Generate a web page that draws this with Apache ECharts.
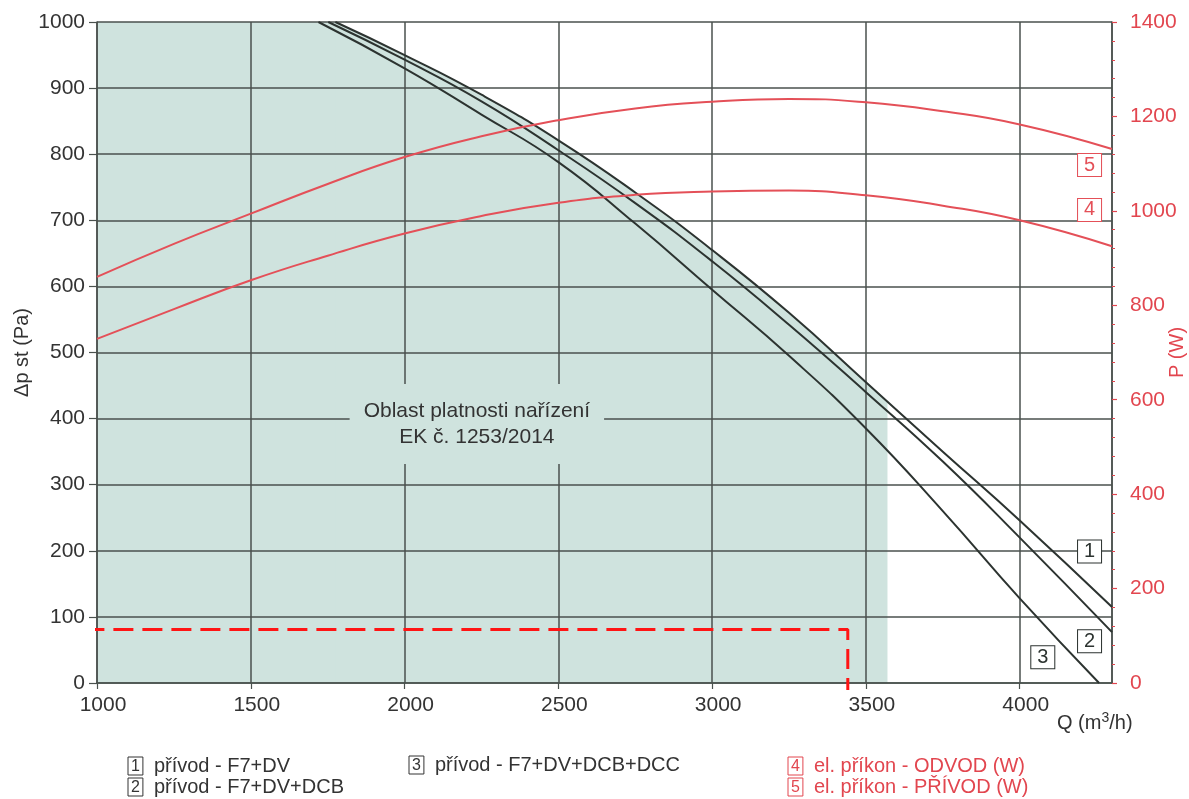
<!DOCTYPE html>
<html>
<head>
<meta charset="utf-8">
<script src="https://cdn.jsdelivr.net/npm/echarts@6/dist/echarts.min.js"></script>
<style>
  html, body { margin: 0; padding: 0; background: #ffffff; }
  #chart { width: 1189px; height: 799px; }
</style>
</head>
<body>
<div id="chart"></div>
<script>
// Fan curves: [Q (m3/h), Δp st (Pa)]
const curvePrivodF7DV = [[1775, 1000], [2000, 950], [2250, 890], [2500, 821], [2750, 742], [3000, 655], [3250, 560], [3500, 455], [3750, 350], [4000, 246], [4300, 115]];
const curvePrivodF7DVDCB = [[1752, 1000], [2000, 943], [2250, 880], [2500, 806], [2750, 726], [3000, 638], [3250, 542], [3500, 440], [3750, 335], [4000, 220], [4300, 77]];
const curvePrivodF7DVDCBDCC = [[1720, 1000], [2000, 930], [2250, 860], [2500, 788], [2750, 695], [3000, 595], [3250, 495], [3500, 385], [3750, 260], [4000, 128], [4258, 0]];

// Electrical input: [Q (m3/h), P (W)]
const powerOdvod = [[1000, 729], [1250, 792], [1500, 853], [1750, 905], [2000, 952], [2250, 989], [2500, 1017], [2750, 1034], [3000, 1041], [3250, 1043], [3500, 1033], [3750, 1011], [4000, 980], [4300, 925]];
const powerPrivod = [[1000, 860], [1250, 930], [1500, 994], [1750, 1057], [2000, 1114], [2250, 1158], [2500, 1192], [2750, 1217], [3000, 1231], [3250, 1237], [3500, 1230], [3750, 1211], [4000, 1183], [4300, 1131]];

// Validity area of regulation EK 1253/2014: full height left of curve 1, then under curve 1 up to the Q limit
const validityTop = [[1000, 1000], [1785, 1000]];
const validityEdge = [3570, 426];

// Working point marker (dashed)
const workingPoint = [[959, 81], [3441, 81], [3441, -10.6]];

const seriesNames = ['přívod - F7+DV', 'přívod - F7+DV+DCB', 'přívod - F7+DV+DCB+DCC', 'el. příkon - ODVOD (W)', 'el. příkon - PŘÍVOD (W)'];
const curveNumbers = ['1', '2', '3', '4', '5'];
// Positions of the numbered curve tags, in data units
const curveTags = [[4227, 199], [4227, 63], [4075, 39], [4227, 1002], [4227, 1097]];

const FONT = '"Liberation Sans", Arial, Helvetica, sans-serif';
const DARK = '#2c3330';
const GRID = '#4a514e';
const RED = '#e2464f';
const REDLINE = '#e45058';
const SHADE = '#cfe3de';

const validityCurve = curvePrivodF7DV.filter(p => p[0] < validityEdge[0]).concat([validityEdge]);
const plain = (v) => String(v);

function tag(i, color) {
  return {
    symbol: 'rect',
    symbolSize: [24, 23],
    itemStyle: { color: '#ffffff', borderColor: color, borderWidth: 1 },
    label: { show: true, position: 'inside', formatter: curveNumbers[i], color: color, fontSize: 20, fontFamily: FONT },
    data: [{ coord: curveTags[i] }],
    z: 6
  };
}

function curve(i, data, color, yIdx) {
  return {
    name: seriesNames[i],
    type: 'line',
    data: data,
    yAxisIndex: yIdx,
    smooth: 0.5,
    symbol: 'none',
    lineStyle: { color: color, width: 2 },
    itemStyle: { color: color },
    z: 3,
    silent: true,
    markPoint: tag(i, color)
  };
}

const legendRich = (color) => ({
  n: { fontSize: 16, color: color, borderColor: color, borderWidth: 1, padding: [2, 3, 0, 3], fontFamily: FONT, lineHeight: 17 },
  t: { fontSize: 20, color: color, padding: [0, 0, 0, 11], fontFamily: FONT, lineHeight: 21 }
});
const legendFormatter = (name) => '{n|' + curveNumbers[seriesNames.indexOf(name)] + '}{t|' + name + '}';

function legendBlock(names, left, bottom, color) {
  return {
    data: names,
    orient: 'vertical',
    left: left,
    bottom: bottom,
    itemWidth: 0,
    itemHeight: 0,
    itemGap: 1,
    padding: 0,
    selectedMode: false,
    formatter: legendFormatter,
    textStyle: { rich: legendRich(color) }
  };
}

const chart = echarts.init(document.getElementById('chart'), null, { renderer: 'canvas' });

chart.setOption({
  animation: false,
  backgroundColor: '#ffffff',
  textStyle: { fontFamily: FONT },
  grid: { left: 97, right: 77, top: 22, bottom: 116, containLabel: false, outerBoundsMode: 'none' },
  legend: [
    legendBlock([seriesNames[0], seriesNames[1]], 122, 2, '#333333'),
    legendBlock([seriesNames[2]], 403, 24, '#333333'),
    legendBlock([seriesNames[3], seriesNames[4]], 782, 2, RED)
  ],
  xAxis: {
    type: 'value',
    min: 1000,
    max: 4300,
    interval: 500,
    z: 2,
    axisLine: { show: true, lineStyle: { color: GRID, width: 1.5 } },
    axisTick: { show: true, length: 6, lineStyle: { color: GRID, width: 1.2 } },
    axisLabel: { fontSize: 21, color: '#333333', margin: 12, showMaxLabel: false, formatter: plain, padding: [0, 0, 0, 12], fontFamily: FONT },
    splitLine: { show: true, lineStyle: { color: GRID, width: 1.5 } }
  },
  yAxis: [
    {
      type: 'value',
      min: 0,
      max: 1000,
      interval: 100,
      position: 'left',
      z: 2,
      name: 'Δp st (Pa)',
      nameLocation: 'middle',
      nameRotate: 90,
      nameGap: 65,
      nameMoveOverlap: false,
      nameTextStyle: { fontSize: 20, color: '#333333', fontFamily: FONT },
      axisLine: { show: true, lineStyle: { color: GRID, width: 1.5 } },
      axisTick: { show: true, length: 8, lineStyle: { color: GRID, width: 1.2 } },
      axisLabel: { fontSize: 21, color: '#333333', margin: 12, formatter: plain, fontFamily: FONT },
      splitLine: { show: true, lineStyle: { color: GRID, width: 1.5 } }
    },
    {
      type: 'value',
      min: 0,
      max: 1400,
      interval: 200,
      position: 'right',
      z: 2,
      name: 'P (W)',
      nameLocation: 'middle',
      nameRotate: 90,
      nameGap: 55,
      nameMoveOverlap: false,
      nameTextStyle: { fontSize: 20, color: RED, fontFamily: FONT },
      axisLine: { show: true, lineStyle: { color: GRID, width: 1.5 } },
      axisTick: { show: true, length: 5, lineStyle: { color: RED, width: 1.2 } },
      minorTick: { show: true, splitNumber: 5, length: 3, lineStyle: { color: RED, width: 1 } },
      axisLabel: { fontSize: 21, color: RED, margin: 18, formatter: plain, fontFamily: FONT },
      splitLine: { show: false }
    }
  ],
  series: [
    {
      name: 'validity top',
      type: 'line',
      data: validityTop,
      symbol: 'none',
      lineStyle: { width: 0, opacity: 0 },
      areaStyle: { color: SHADE, opacity: 1 },
      z: 1,
      silent: true
    },
    {
      name: 'validity',
      type: 'line',
      data: validityCurve,
      smooth: 0.5,
      symbol: 'none',
      lineStyle: { width: 0, opacity: 0 },
      areaStyle: { color: SHADE, opacity: 1 },
      z: 1,
      silent: true,
      markPoint: {
        symbol: 'rect',
        symbolSize: 0,
        z: 5,
        silent: true,
        data: [{ coord: [2235, 392] }],
        label: {
          show: true,
          position: 'inside',
          formatter: 'Oblast platnosti nařízení\nEK č. 1253/2014',
          fontSize: 21,
          lineHeight: 26,
          color: '#333333',
          align: 'center',
          backgroundColor: SHADE,
          padding: [14, 14, 14, 14],
          fontFamily: FONT
        }
      }
    },
    curve(0, curvePrivodF7DV, DARK, 0),
    curve(1, curvePrivodF7DVDCB, DARK, 0),
    curve(2, curvePrivodF7DVDCBDCC, DARK, 0),
    curve(3, powerOdvod, REDLINE, 1),
    curve(4, powerPrivod, REDLINE, 1),
    {
      name: 'working point',
      type: 'line',
      data: workingPoint,
      symbol: 'none',
      clip: false,
      silent: true,
      z: 4,
      lineStyle: { color: '#ff1414', width: 3, type: [20, 9] }
    }
  ],
  graphic: [
    {
      type: 'text',
      left: 1057,
      top: 711,
      silent: true,
      style: {
        text: 'Q (m{s|3}/h)',
        font: '20px ' + FONT,
        fill: '#333333',
        rich: { s: { fontSize: 14, fill: '#333333', padding: [0, 0, 10, 0], fontFamily: FONT } }
      }
    }
  ]
});
</script>
</body>
</html>
